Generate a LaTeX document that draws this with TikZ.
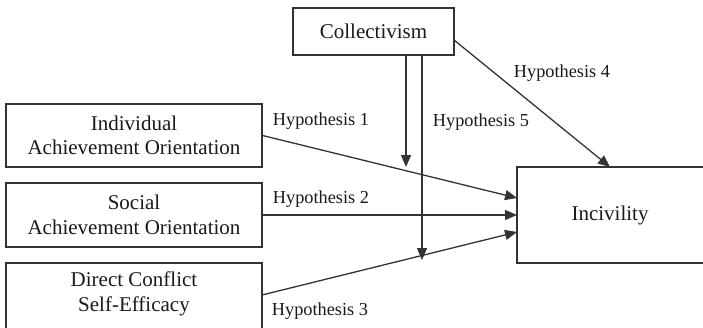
\documentclass[tikz,border=0pt]{standalone}
\usepackage{fontspec}
\setmainfont{Liberation Serif}
\usetikzlibrary{arrows.meta}
\definecolor{ln}{HTML}{333333}
\definecolor{tx}{HTML}{1A1A1A}
\begin{document}
\begin{tikzpicture}[x=1pt,y=-1pt,
  box/.style={draw=ln,line width=1.3pt,inner sep=0pt,align=center,text=tx,font=\fontsize{21}{24.5}\selectfont},
  plain/.style={inner sep=0pt,align=center,text=tx,font=\fontsize{21}{24.5}\selectfont},
  hyp/.style={inner sep=0pt,text=tx,font=\fontsize{18.3}{21}\selectfont},
  conn/.style={draw=ln,line width=1.3pt,-{Triangle[length=12pt,width=10pt]}}]
\useasboundingbox (0,0) rectangle (703,327);
\clip (0,0) rectangle (703,327);
\fill[white] (0,0) rectangle (703,327);
\node[box,minimum width=161pt,minimum height=47pt] (col) at (373.5,31.5) {Collectivism};
\node[box,minimum width=256pt,minimum height=63pt] (a) at (134,135.5) {Individual\\Achievement Orientation};
\node[box,minimum width=256pt,minimum height=64pt] (b) at (134,215) {Social\\Achievement Orientation};
\node[plain,minimum width=256pt,minimum height=50pt] (c) at (134,294) {Direct Conflict\\Self-Efficacy};
\draw[ln,line width=1.3pt] (6,340) |- (262,263) -- (262,340);
\node[plain,minimum width=186pt,minimum height=96pt] (inc) at (610,215) {Incivility};
\draw[ln,line width=1.3pt] (720,167) -| (517,263) -- (720,263);
\coordinate (t1) at (517,198);
\coordinate (t2) at (517,215);
\coordinate (t3) at (517,232);
\coordinate (s3) at (262,295);
\coordinate (s4) at (454,40);
\coordinate (t4) at (610,167);
\coordinate (v1s) at (406,55);
\coordinate (v1e) at (406,167);
\coordinate (v2s) at (422,55);
\coordinate (v2e) at (422,260);
\draw[conn] (a.east) -- (t1);
\draw[conn] (b.east) -- (t2);
\draw[conn] (s3) -- (t3);
\draw[conn] (s4) -- (t4);
\draw[conn] (v1s) -- (v1e);
\draw[conn] (v2s) -- (v2e);
\node[hyp] (h1) at (321,121) {Hypothesis 1};
\node[hyp] (h2) at (321,199) {Hypothesis 2};
\node[hyp] (h3) at (320,311) {Hypothesis 3};
\node[hyp] (h4) at (562,73) {Hypothesis 4};
\node[hyp] (h5) at (481,122) {Hypothesis 5};
\end{tikzpicture}
\end{document}
